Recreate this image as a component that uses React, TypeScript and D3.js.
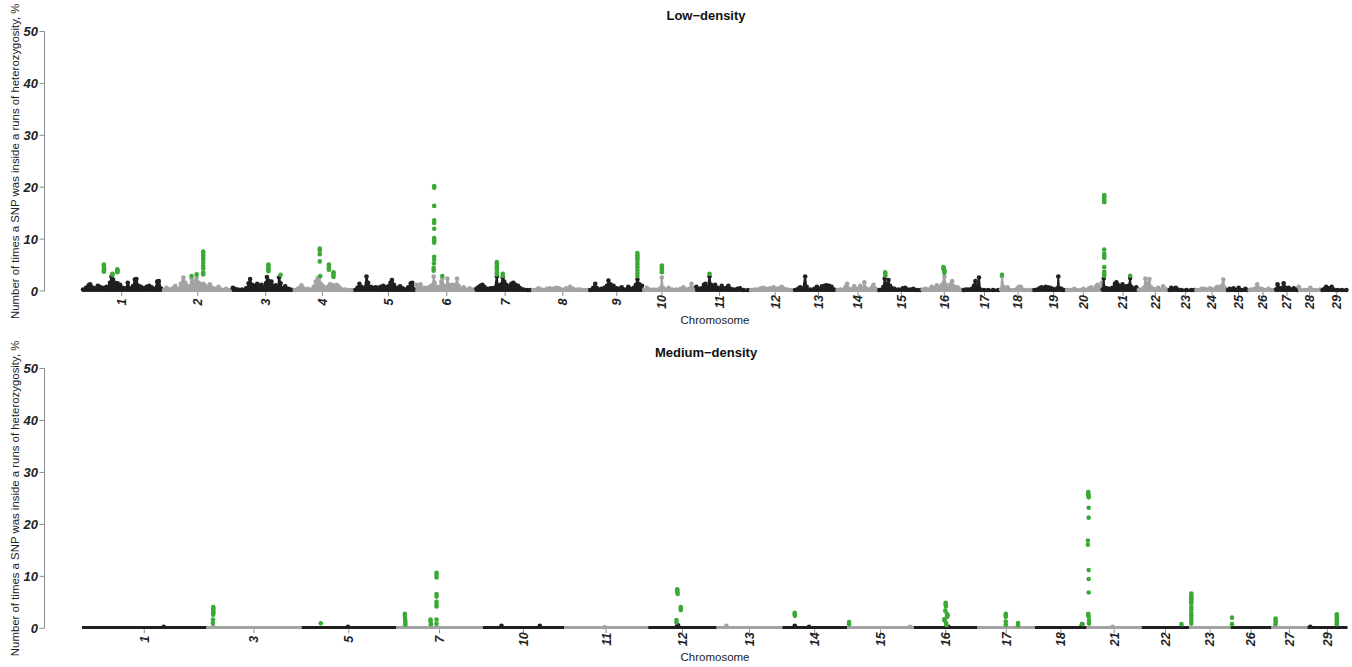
import React from "react";
import * as d3 from "d3";

// ---------------- DATA ----------------
// Bovine chromosome lengths (Mb), index 0 = chromosome 1
const chromLengthMb = [158.5, 136.2, 121.0, 120.0, 120.1, 117.8, 110.7, 113.3, 105.5, 103.3, 107.0, 87.2, 83.5, 82.4, 85.0, 81.0, 73.2, 65.8, 63.4, 72.0, 69.9, 60.8, 52.5, 62.3, 42.4, 52.0, 45.6, 45.9, 51.1];

const yTicks = [0, 10, 20, 30, 40, 50];

// Low-density panel
const lowChromosomes = [1, 2, 3, 4, 5, 6, 7, 8, 9, 10, 11, 12, 13, 14, 15, 16, 17, 18, 19, 20, 21, 22, 23, 24, 25, 26, 27, 28, 29];
const lowTickMb = [78.1, 69.3, 66.7, 57.1, 67.1, 61.8, 58.8, 61.6, 54.5, 37.6, 47.8, 50.2, 48.2, 42.3, 45.3, 44.7, 42.9, 35.4, 39.9, 34.8, 40.9, 34.6, 32.9, 32.9, 22.8, 28.5, 23.6, 22.6, 29.1];
type Pt = [number, number];
const lowProfile: Pt[][] = [
  [[2,0.3],[8,0.6],[13,1.1],[16,1.3],[20,0.7],[26,0.5],[31,1.0],[35,0.8],[41,0.6],[48,0.8],[55,1.6],[58,2.8],[61,2.2],[65,1.6],[70,1.5],[75,1.2],[80,0.6],[86,0.5],[90,1.6],[95,0.4],[100,0.9],[104,2.2],[107,2.3],[111,1.0],[116,0.8],[121,0.5],[127,0.8],[132,1.0],[137,0.7],[143,0.4],[148,1.8],[151,1.9],[156,0.4]],
  [[3,0.2],[8,0.6],[14,0.3],[20,0.5],[25,1.0],[30,0.4],[36,1.4],[41,2.6],[45,1.6],[48,1.0],[53,0.8],[57,2.4],[62,1.8],[67,2.6],[71,1.6],[75,1.3],[80,1.4],[84,1.0],[89,0.6],[93,1.3],[98,0.6],[104,0.4],[110,0.8],[116,0.3],[125,0.4],[132,0.2]],
  [[2,0.6],[6,0.4],[12,0.3],[20,0.3],[28,0.5],[33,1.5],[36,2.3],[40,1.2],[46,1.0],[50,1.4],[54,0.9],[58,1.2],[63,0.8],[67,1.5],[69,2.7],[72,2.0],[75,1.1],[78,1.8],[82,0.9],[86,1.1],[90,0.6],[93,2.6],[96,1.5],[100,0.5],[105,0.9],[111,0.4],[116,0.3]],
  [[3,0.2],[10,0.5],[16,1.1],[20,0.5],[28,0.4],[34,0.3],[40,0.8],[44,1.8],[48,2.5],[51,2.6],[54,1.4],[58,1.0],[63,0.5],[68,0.8],[72,1.3],[76,1.2],[80,1.0],[85,1.2],[89,0.9],[94,0.4],[102,0.3],[110,0.2],[116,0.2]],
  [[2,0.2],[6,0.6],[10,1.4],[14,0.8],[20,0.6],[24,2.8],[27,1.6],[32,0.8],[37,0.6],[42,0.7],[47,0.6],[52,0.8],[57,1.0],[62,0.7],[67,0.9],[71,1.6],[74,2.1],[78,1.2],[84,0.6],[90,0.9],[95,0.5],[100,0.3],[106,0.7],[111,1.5],[114,1.6],[118,0.3]],
  [[2,1.2],[5,1.0],[10,1.3],[14,0.6],[19,0.6],[24,0.5],[28,0.8],[32,1.0],[34,1.2],[36,2.8],[38,1.6],[42,0.8],[47,0.8],[51,1.8],[53,2.4],[56,1.0],[60,0.8],[63,2.4],[66,1.2],[70,1.0],[74,1.2],[78,0.9],[82,2.4],[85,1.0],[90,0.4],[95,0.7],[100,0.3],[107,0.5],[112,0.3],[116,0.2]],
  [[2,0.4],[6,0.7],[10,1.0],[14,1.2],[18,0.8],[24,0.4],[30,0.5],[34,0.5],[38,0.6],[42.5,2.8],[45,1.0],[50,1.2],[54,2.6],[57,1.8],[61,1.2],[66,0.9],[71,1.4],[75,1.6],[79,1.2],[84,1.0],[89,0.5],[95,0.3],[102,0.2],[108,0.2]],
  [[3,0.2],[10,0.3],[14,0.5],[20,0.3],[30,0.4],[36,0.5],[42,0.4],[48,0.6],[54,0.5],[60,0.3],[68,0.5],[76,0.8],[82,0.4],[90,0.3],[96,0.3],[104,0.2],[110,0.2]],
  [[2,0.2],[8,0.6],[12,1.4],[16,0.5],[24,0.4],[30,0.6],[35,1.0],[38,2.0],[42,1.3],[48,1.0],[54,0.5],[60,0.4],[64,0.7],[70,0.3],[77,0.8],[82,0.4],[88,0.6],[92,1.2],[95,2.2],[99,1.3],[104,1.0]],
  [[3,0.2],[8,0.6],[14,0.3],[22,0.3],[30,0.3],[35,0.5],[37.5,2.6],[40,0.6],[46,0.3],[51,0.6],[58,0.3],[66,0.3],[74,0.4],[80,0.7],[86,0.3],[92,0.4],[96,1.4],[99,0.5],[102,0.2]],
  [[2,0.8],[6,0.4],[12,0.5],[17,1.2],[20,1.4],[24,0.6],[28,2.8],[31,1.2],[36,0.8],[39,1.2],[44,0.6],[49,0.4],[52,1.0],[56,0.5],[62,0.6],[65,1.0],[70,0.4],[76,0.3],[83,0.4],[88,0.5],[95,0.2],[104,0.2]],
  [[3,0.2],[10,0.3],[16,0.3],[22,0.5],[27,0.6],[33,0.4],[40,0.5],[47,0.7],[53,0.4],[58,0.5],[63,0.8],[68,0.4],[75,0.3],[82,0.2]],
  [[2,0.2],[8,0.4],[12,0.7],[17,0.4],[22,2.8],[25,0.8],[32,0.3],[40,0.4],[45,0.8],[50,0.4],[55,0.9],[60,1.0],[64,1.1],[69,1.0],[74,0.8],[79,0.3]],
  [[2,0.2],[8,0.3],[14,0.3],[18,0.8],[21,1.4],[25,0.4],[30,0.3],[35,0.9],[40,0.4],[47,1.0],[51,0.4],[55,1.7],[58,0.5],[64,0.3],[70,0.7],[73,1.2],[77,0.4],[81,0.2]],
  [[2,0.2],[7,0.3],[10,0.8],[12.5,2.4],[15,1.2],[18,1.4],[20,2.1],[23,1.0],[27,0.5],[32,0.4],[40,0.3],[48,0.5],[53,0.6],[58,0.3],[64,0.3],[69,0.4],[76,0.2],[83,0.2]],
  [[2,0.3],[8,0.4],[14,0.3],[20,0.8],[25,0.5],[30,1.1],[34,0.7],[40,1.2],[45,2.8],[48,1.2],[53,0.6],[57,1.3],[60,1.9],[63,0.9],[67,0.7],[71,0.7],[76,0.3],[80,0.2]],
  [[2,0.2],[6,0.3],[11,0.3],[18,0.4],[22,1.0],[25,1.9],[28,0.6],[32,2.6],[35,0.3],[42,0.2],[50,0.2],[60,0.2],[70,0.2]],
  [[2,0.3],[4,2.8],[7,0.8],[12,0.4],[15,0.7],[20,0.2],[28,0.2],[34,0.4],[37,0.8],[41,0.8],[45,0.3],[52,0.2],[60,0.2],[64,0.2]],
  [[2,0.2],[8,0.3],[12,0.5],[16,0.7],[20,0.5],[24,0.8],[28,0.7],[33,0.6],[38,0.4],[43,0.3],[47,0.5],[49,2.8],[51,0.5],[55,0.4],[60,0.2]],
  [[3,0.2],[10,0.2],[17,0.4],[22,0.2],[30,0.2],[35,0.4],[40,0.2],[46,0.5],[50,0.7],[55,0.3],[60,0.9],[63,1.2],[67,0.6],[71,1.6]],
  [[1,0.3],[3,2.4],[5,0.6],[9,0.5],[14,0.4],[20,0.6],[25,1.4],[28,1.7],[32,1.1],[36,0.8],[40,1.3],[44,0.7],[48,0.9],[52,1.0],[55,2.5],[57,0.8],[62,0.4],[67,0.7],[69,0.3]],
  [[2,0.2],[7,0.3],[12,0.6],[15,2.4],[19,1.4],[23,2.3],[26,0.7],[31,0.4],[36,0.3],[40,0.6],[45,0.3],[50,0.9],[54,0.4],[59,0.2]],
  [[2,0.2],[5,0.6],[9,0.4],[14,0.6],[18,0.3],[25,0.2],[35,0.2],[45,0.2],[51,0.2]],
  [[2,0.2],[8,0.2],[12,0.4],[18,0.4],[24,0.3],[29,0.5],[34,0.3],[40,0.5],[43,0.8],[47,0.6],[51,0.9],[55,2.2],[58,0.6],[61,0.2]],
  [[2,0.2],[5,0.4],[9,0.3],[13,0.5],[18,0.2],[23,0.6],[28,0.2],[36,0.4],[41,0.2]],
  [[2,0.2],[6,0.3],[12,0.4],[17,1.3],[20,0.5],[26,0.4],[32,0.2],[39,0.4],[45,0.2],[51,0.2]],
  [[2,0.3],[5,1.3],[8,0.6],[12,0.4],[17,1.5],[21,0.6],[27,0.6],[32,0.3],[37,0.5],[42,0.3],[45,0.2]],
  [[1,0.8],[4,0.3],[12,0.2],[18,0.2],[24,0.6],[28,0.2],[35,0.2],[43,0.3]],
  [[2,0.2],[6,0.4],[9,0.8],[14,0.5],[20,0.8],[24,0.3],[32,0.2],[40,0.2],[49,0.2]],
];
// [chromosome, position Mb, value %]
const lowGreen: [number, number, number][] = [
  [1,43,5.1],[1,43,4.8],[1,43.5,4.5],[1,43.5,4.2],[1,43,3.9],[1,43,3.7],[1,60,3.3],[1,60,3.1],[1,69.5,4.2],[1,69.5,4.0],[1,69.5,3.8],[1,69.5,3.6],
  [2,57,2.9],[2,67,3.2],[2,80,7.6],[2,80,7.3],[2,80,6.9],[2,80,6.4],[2,80,6.0],[2,80,5.4],[2,80,4.8],[2,80,4.4],[2,80,3.6],[2,80,3.2],
  [3,72,5.1],[3,72,4.8],[3,72,4.4],[3,72,4.1],[3,72,3.8],[3,96,3.1],
  [4,52,8.2],[4,52,7.9],[4,52,7.1],[4,52,5.7],[4,53,2.9],[4,70,5.1],[4,70,4.8],[4,70,4.4],[4,70,4.1],[4,79,3.6],[4,79,3.3],[4,79,3.0],[4,79,2.7],
  [6,37,20.2],[6,37,19.9],[6,37,16.4],[6,37,13.6],[6,37,13.1],[6,37,12.0],[6,37,10.2],[6,37,9.8],[6,37,9.3],[6,37,6.6],[6,37,6.0],[6,36.5,5.3],[6,36,4.4],[6,36,3.9],[6,53,2.9],
  [7,42.5,5.6],[7,42.5,5.3],[7,42.5,5.0],[7,42.5,4.6],[7,42.5,4.2],[7,42.5,3.6],[7,42.5,3.2],[7,54,3.3],[7,54,2.9],
  [9,95,7.3],[9,95,6.9],[9,95,6.5],[9,95,6.1],[9,95,5.6],[9,95,5.1],[9,95,4.6],[9,95,4.0],[9,95,3.4],[9,95,2.9],
  [10,37.6,4.9],[10,37.6,4.6],[10,37.6,4.3],[10,37.6,4.0],[10,37.6,3.6],
  [11,28,3.3],
  [15,13.5,3.6],[15,13.5,3.3],[15,14,3.0],
  [16,43,4.6],[16,43.5,4.4],[16,44,4.2],[16,44.5,4.0],[16,45,3.8],[16,45,3.5],
  [18,4,3.1],
  [21,4,18.5],[21,4,18.2],[21,4,17.8],[21,4,17.4],[21,4,17.1],[21,4,8.0],[21,4,7.2],[21,4,6.8],[21,4,6.4],[21,4,4.6],[21,4,3.7],[21,4,3.3],[21,4,2.9],[21,55,2.95],
];

// Medium-density panel
const medChromosomes = [1, 3, 5, 7, 10, 11, 12, 13, 14, 15, 16, 17, 18, 21, 22, 23, 26, 27, 29];
const medProfile: Pt[][] = [
  [[104,0.3]],
  [[8.6,0.4]],
  [[59,0.3]],
  [[11,0.3],[44,0.3],[51.6,0.3]],
  [[23.6,0.5],[72.4,0.5]],
  [[51.8,0.2]],
  [[37,0.6],[38,0.6]],
  [[12.3,0.5]],
  [[15.8,0.5],[34,0.3]],
  [[80,0.3]],
  [[41,0.3],[44,0.3]],
  [],
  [[59,0.3],[60,0.8]],
  [[33,0.3]],
  [],
  [],
  [],
  [],
  [[3.7,0.3]],
];
const medGreen: [number, number, number][] = [
  [3,8.6,4.1],[3,8.6,3.8],[3,8.6,3.5],[3,8.6,3.2],[3,8.6,2.9],[3,8.4,2.6],[3,8.2,1.7],[3,8,1.0],
  [5,24.4,0.95],
  [7,11.3,2.8],[7,11.3,2.4],[7,11.5,2.0],[7,11.8,1.5],[7,11.8,1.1],[7,12,0.7],[7,44,1.7],[7,44,1.3],[7,44.5,0.8],
  [7,51.6,10.7],[7,51.6,10.3],[7,51.6,9.8],[7,51.6,6.6],[7,51.6,6.1],[7,51.6,5.1],[7,51.6,4.6],[7,51.6,4.2],[7,51.6,1.7],[7,51.6,0.9],
  [12,37,7.5],[12,37,7.2],[12,37.2,6.9],[12,37.5,6.6],[12,41.5,4.1],[12,41.5,3.8],[12,41.5,3.5],[12,36,1.6],[12,36,1.1],
  [14,15.8,3.0],[14,15.8,2.7],[14,16,2.4],
  [15,2.5,1.2],[15,2.5,0.8],
  [16,40.5,4.9],[16,40.5,4.6],[16,40.8,4.2],[16,40,3.4],[16,42,2.8],[16,43,2.5],[16,42.5,2.2],[16,39,1.8],[16,39,1.5],[16,41,1.0],[16,41.5,0.6],
  [17,36,2.8],[17,36,2.5],[17,36,2.2],[17,36,1.3],[17,36,0.7],[17,51.6,1.0],[17,51.6,0.6],
  [18,60.2,0.8],
  [21,2,26.2],[21,2,25.8],[21,2.3,25.5],[21,2.5,25.2],[21,2.5,23.2],[21,2.5,21.3],[21,1.5,16.9],[21,1.5,16.1],[21,2.5,11.2],[21,2.5,9.5],[21,2.5,6.9],[21,2,2.8],[21,2,2.5],[21,2.5,2.2],[21,3,1.5],[21,3,0.9],
  [22,50.7,0.8],
  [23,2.4,6.7],[23,2.4,6.4],[23,2.4,6.1],[23,2.4,5.8],[23,2.4,5.5],[23,2.4,5.2],[23,2.4,4.8],[23,2.4,4.1],[23,2.4,3.6],[23,2.4,3.0],[23,2.4,2.5],[23,2.4,2.0],[23,2.4,1.5],[23,2.4,0.9],
  [26,1.7,2.05],[26,1.7,0.8],
  [27,5.2,1.9],[27,5.2,1.5],[27,5.4,1.2],[27,5,0.8],
  [29,37.5,2.7],[29,37.5,2.4],[29,37.5,2.1],[29,37.5,1.8],[29,37.5,1.5],[29,37.5,1.2],[29,37.5,0.8],
];

// ---------------- STYLE ----------------
const FONT = "'Liberation Sans', Arial, Helvetica, sans-serif";
const BLACK = "#1f1f1f";
const GRAY = "#a3a3a3";
const GREEN = "#3aa935";
const AXIS = "#8c8c8c";
const R = 2.3;

interface PanelProps {
  title: string;
  chroms: number[];
  profiles: Pt[][];
  green: [number, number, number][];
  ticksMb: number[] | null;
  y0: number;
  y50: number;
  titleY: number;
}

function Panel({ title, chroms, profiles, green, ticksMb, y0, y50, titleY }: PanelProps) {
  const lengths = chroms.map((c) => chromLengthMb[c - 1]);
  const cum = Array.from(d3.cumsum(lengths));
  const starts = [0, ...cum.slice(0, -1)];
  const total = d3.sum(lengths);
  const x = d3.scaleLinear().domain([0, total]).range([82, 1347.5]);
  const y = d3.scaleLinear().domain([0, 50]).range([y0, y50]);
  const area = d3
    .area<Pt>()
    .x((d) => d[0])
    .y0(y(0))
    .y1((d) => d[1])
    .curve(d3.curveMonotoneX);
  const axisX = 44.5;
  const midY = (y0 + y50) / 2;

  return (
    <g>
      <text x={706} y={titleY} textAnchor="middle" dy="0.35em" fontFamily={FONT} fontWeight="bold" fontSize={13} fill="#111">
        {title}
      </text>
      {/* y axis */}
      <line x1={axisX} x2={axisX} y1={y(0)} y2={y(50)} stroke={AXIS} strokeWidth={1} />
      {yTicks.map((t) => (
        <g key={t}>
          <line x1={axisX - 5} x2={axisX} y1={y(t)} y2={y(t)} stroke={AXIS} strokeWidth={1} />
          <text x={axisX - 6.5} y={y(t)} dy="0.35em" textAnchor="end" fontFamily={FONT} fontWeight="bold" fontStyle="italic" fontSize={13} fill="#222">
            {t}
          </text>
        </g>
      ))}
      <text
        transform={`translate(15,${midY}) rotate(-90)`}
        textAnchor="middle"
        dy="0.35em"
        fontFamily={FONT}
        fontSize={11.4}
        fill="#222"
      >
        Number of times a SNP was inside a runs of heterozygosity, %
      </text>
      {/* chromosomes */}
      {chroms.map((c, i) => {
        const color = i % 2 === 0 ? BLACK : GRAY;
        const s = starts[i];
        const len = lengths[i];
        const pts: Pt[] = profiles[i].map((p) => [x(s + p[0]), y(p[1])]);
        const tickMb = ticksMb ? ticksMb[i] : len / 2;
        const tx = x(s + tickMb);
        return (
          <g key={c}>
            <line x1={x(s)} x2={x(s + len)} y1={y(0.15)} y2={y(0.15)} stroke={color} strokeWidth={3} />
            {ticksMb && pts.length > 1 && (
              <path d={area(pts) || ""} fill={color} stroke={color} strokeWidth={1.5} strokeLinejoin="round" />
            )}
            {pts.map((p, j) => (
              <circle key={j} cx={p[0]} cy={p[1]} r={R} fill={color} />
            ))}
            <line x1={tx} x2={tx} y1={y(0) + 1} y2={y(0) + 5} stroke={AXIS} strokeWidth={1} />
            <text
              transform={`translate(${tx},${y(0) + 11}) rotate(-90)`}
              textAnchor="middle"
              dy="0.35em"
              fontFamily={FONT}
              fontWeight="bold"
              fontStyle="italic"
              fontSize={12.5}
              fill="#222"
            >
              {c}
            </text>
          </g>
        );
      })}
      {green.map((g, j) => {
        const i = chroms.indexOf(g[0]);
        return <circle key={j} cx={x(starts[i] + g[1])} cy={y(g[2])} r={R} fill={GREEN} />;
      })}
      <text x={715} y={y(0) + 29} textAnchor="middle" dy="0.35em" fontFamily={FONT} fontSize={11.5} fill="#222">
        Chromosome
      </text>
    </g>
  );
}

export default function App() {
  return (
    <svg width={1352} height={667} style={{ position: "absolute", left: 0, top: 0, background: "#fff" }}>
      <rect width={1352} height={667} fill="#fff" />
      <Panel title="Low−density" chroms={lowChromosomes} profiles={lowProfile} green={lowGreen} ticksMb={lowTickMb} y0={291} y50={31.5} titleY={15} />
      <Panel title="Medium−density" chroms={medChromosomes} profiles={medProfile} green={medGreen} ticksMb={null} y0={628.3} y50={368.5} titleY={352} />
    </svg>
  );
}
